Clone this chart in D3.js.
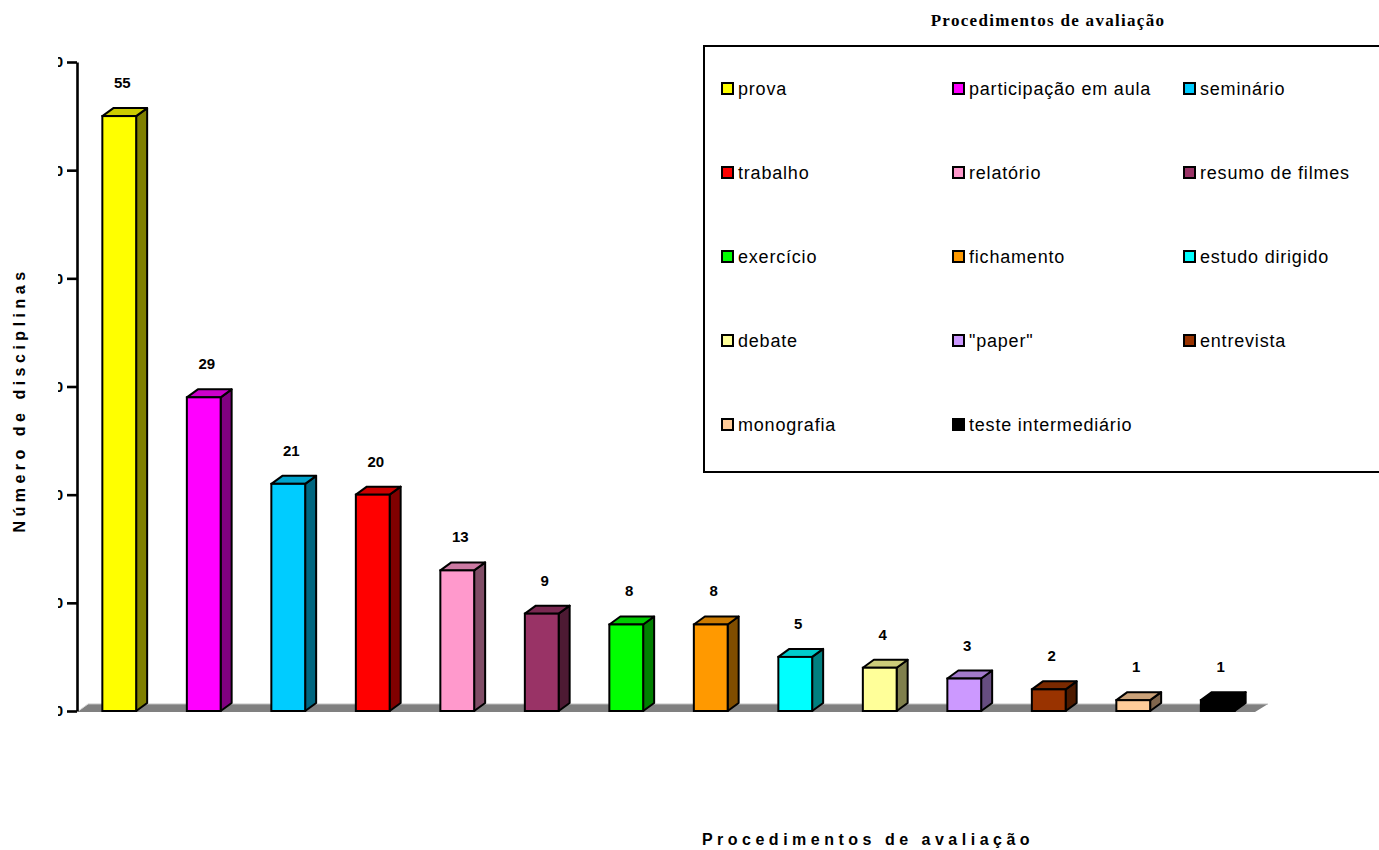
<!DOCTYPE html>
<html>
<head>
<meta charset="utf-8">
<script src="https://cdn.jsdelivr.net/npm/d3@7"></script>
<style>
  html, body { margin: 0; padding: 0; background: #ffffff; }
  svg { display: block; }
</style>
</head>
<body>
<svg id="chart" width="1379" height="850"></svg>
<script>
// Evaluation procedures and number of courses using each one
const categories = ["prova", "participação em aula", "seminário", "trabalho", "relatório",
  "resumo de filmes", "exercício", "fichamento", "estudo dirigido", "debate",
  "\"paper\"", "entrevista", "monografia", "teste intermediário"];
const values = [55, 29, 21, 20, 13, 9, 8, 8, 5, 4, 3, 2, 1, 1];
const colors = ["#FFFF00", "#FF00FF", "#00CCFF", "#FF0000", "#FF99CC", "#993366",
  "#00FF00", "#FF9900", "#00FFFF", "#FFFF99", "#CC99FF", "#993300", "#FFCC99", "#000000"];
const yTicks = [0, 10, 20, 30, 40, 50, 60];

const svg = d3.select("#chart");

const plotLeft = 77, plotRight = 1260, plotTop = 62, plotBottom = 711;
const depthX = 11, depthY = -8;
const sans = "Arial, 'Liberation Sans', sans-serif";

const x = d3.scaleBand().domain(categories).range([plotLeft, plotRight]).padding(0);
const y = d3.scaleLinear().domain([0, 60]).range([plotBottom, plotTop]);
const color = d3.scaleOrdinal().domain(categories).range(colors);
const barW = x.bandwidth() * 0.4;

// darker tone for the top and side faces of a bar
const shade = (c, k) => {
  const r = d3.rgb(c);
  return d3.rgb(r.r * k, r.g * k, r.b * k).formatHex();
};
const pts = arr => arr.map(p => p.join(",")).join(" ");

// tick numbers are cut off at the left edge of the chart area
svg.append("defs").append("clipPath").attr("id", "leftClip")
  .append("rect").attr("x", 58).attr("y", 0).attr("width", 1400).attr("height", 850);

// floor of the 3D plot
const floor = svg.append("g");
floor.append("polygon")
  .attr("points", pts([[plotLeft, plotBottom + 1], [plotRight - 5, plotBottom + 1],
    [plotRight + 8, plotBottom - 7], [plotLeft + 11, plotBottom - 7]]))
  .attr("fill", "#808080");
floor.append("line")
  .attr("x1", plotLeft).attr("y1", plotBottom + 1).attr("x2", plotLeft + 11).attr("y2", plotBottom - 7)
  .attr("stroke", "#d8d8d8").attr("stroke-width", 1);
floor.append("line")
  .attr("x1", plotLeft + 11).attr("y1", plotBottom - 7).attr("x2", plotRight + 8).attr("y2", plotBottom - 7)
  .attr("stroke", "#c0c0c0").attr("stroke-width", 1);

// y axis
const yAxis = svg.append("g")
  .attr("transform", `translate(${plotLeft},0)`)
  .call(d3.axisLeft(y).tickValues(yTicks).tickSize(10).tickSizeOuter(0).tickFormat(""));
yAxis.select(".domain").attr("stroke", "#000").attr("stroke-width", 2.6);
yAxis.selectAll(".tick line").attr("stroke", "#000").attr("stroke-width", 2.6);

const tickLabels = svg.append("g").attr("clip-path", "url(#leftClip)");
tickLabels.selectAll("text").data(yTicks).join("text")
  .attr("x", plotLeft - 14).attr("y", d => y(d)).attr("dy", "0.36em")
  .attr("text-anchor", "end")
  .attr("font-family", sans).attr("font-size", 15).attr("font-weight", "bold").attr("fill", "#000")
  .text(d => d);

// bars
const bars = svg.append("g");
categories.forEach((c, i) => {
  const v = values[i];
  const x0 = x(c) + (x.bandwidth() - barW) / 2;
  const x1 = x0 + barW;
  const yt = y(v), yb = y(0);
  const base = color(c);
  const g = bars.append("g");
  g.append("polygon")
    .attr("points", pts([[x1, yt], [x1 + depthX, yt + depthY], [x1 + depthX, yb + depthY], [x1, yb]]))
    .attr("fill", shade(base, 0.5)).attr("stroke", "#000").attr("stroke-width", 2).attr("stroke-linejoin", "round");
  g.append("polygon")
    .attr("points", pts([[x0, yt], [x0 + depthX, yt + depthY], [x1 + depthX, yt + depthY], [x1, yt]]))
    .attr("fill", shade(base, 0.8)).attr("stroke", "#000").attr("stroke-width", 2).attr("stroke-linejoin", "round");
  g.append("rect")
    .attr("x", x0).attr("y", yt).attr("width", barW).attr("height", yb - yt)
    .attr("fill", base).attr("stroke", "#000").attr("stroke-width", 2);
  g.append("text")
    .attr("x", x0 + barW / 2 + 3).attr("y", yt - 28)
    .attr("text-anchor", "middle")
    .attr("font-family", sans).attr("font-size", 15).attr("font-weight", "bold").attr("fill", "#000")
    .text(v);
});

// axis titles
svg.append("text")
  .attr("transform", "translate(25,400) rotate(-90)")
  .attr("text-anchor", "middle")
  .attr("font-family", sans).attr("font-size", 16).attr("font-weight", "bold").attr("letter-spacing", 4.5)
  .text("Número de disciplinas");

svg.append("text")
  .attr("x", 868).attr("y", 845)
  .attr("text-anchor", "middle")
  .attr("font-family", sans).attr("font-size", 16).attr("font-weight", "bold").attr("letter-spacing", 4.5)
  .text("Procedimentos de avaliação");

// legend
svg.append("text")
  .attr("x", 1048).attr("y", 26)
  .attr("text-anchor", "middle")
  .attr("font-family", "'Liberation Serif', 'Times New Roman', serif")
  .attr("font-size", 17).attr("font-weight", "bold").attr("letter-spacing", 1.3)
  .text("Procedimentos de avaliação");

const legend = svg.append("g");
legend.append("rect")
  .attr("x", 704).attr("y", 46).attr("width", 720).attr("height", 426)
  .attr("fill", "#fff").attr("stroke", "#000").attr("stroke-width", 2);

const colX = [722, 953, 1184];
const rowY = [89, 173, 257, 341, 425];
categories.forEach((c, i) => {
  const cx = colX[i % 3], cy = rowY[Math.floor(i / 3)];
  legend.append("rect")
    .attr("x", cx).attr("y", cy - 6).attr("width", 11).attr("height", 11)
    .attr("fill", color(c)).attr("stroke", "#000").attr("stroke-width", 2);
  legend.append("text")
    .attr("x", cx + 16).attr("y", cy + 6)
    .attr("font-family", sans).attr("font-size", 18).attr("letter-spacing", 0.8).attr("fill", "#000")
    .text(c);
});
</script>
</body>
</html>
